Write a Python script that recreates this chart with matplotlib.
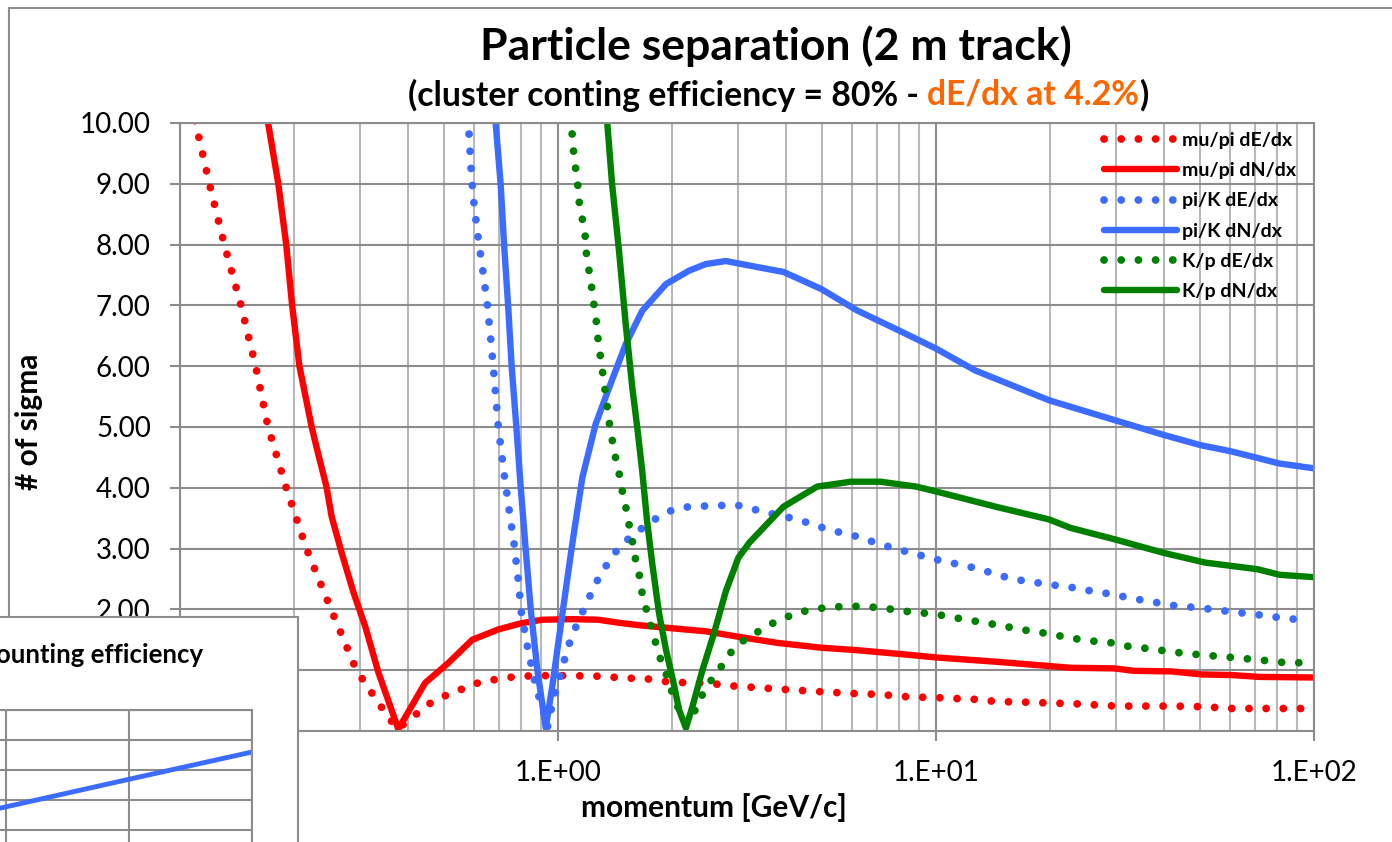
import math
import matplotlib
matplotlib.use("Agg")
import matplotlib.pyplot as plt
from matplotlib.patches import Rectangle
from matplotlib.ticker import FixedLocator, NullFormatter, FuncFormatter

plt.rcParams['font.family'] = ['Lato', 'DejaVu Sans']

# ---- data (momentum in GeV/c, separation in # of sigma) ----
mupi_de_p = [0.105, 0.110, 0.1196, 0.131, 0.145, 0.1585, 0.171, 0.191, 0.216, 0.251, 0.293,
             0.349, 0.376, 0.405, 0.454, 0.503, 0.553, 0.593, 0.664, 0.695, 0.788, 0.891,
             1.09, 1.30, 1.51, 1.71, 2.0, 2.46, 2.92, 3.63, 4.30, 4.85, 5.88, 7.13, 8.5,
             10.0, 12.7, 14.7, 16.2, 20.0, 23.0, 30.0, 33.0, 42.0, 50.6, 60.7, 71.5, 100.0]
mupi_de_s = [10.3, 10.0, 9.0, 8.0, 7.0, 6.0, 5.0, 4.0, 3.0, 2.0, 1.0,
             0.30, 0.03, 0.19, 0.44, 0.58, 0.68, 0.77, 0.83, 0.86, 0.90, 0.91,
             0.91, 0.90, 0.87, 0.86, 0.80, 0.79, 0.74, 0.70, 0.67, 0.65, 0.62, 0.60, 0.56,
             0.55, 0.52, 0.48, 0.48, 0.46, 0.45, 0.41, 0.41, 0.41, 0.40, 0.37, 0.37, 0.37]

mupi_dn_p = [0.168, 0.171, 0.182, 0.191, 0.198, 0.207, 0.223, 0.232, 0.244, 0.252, 0.268,
             0.288, 0.309, 0.335, 0.378, 0.445, 0.513, 0.593, 0.695, 0.797, 0.909, 1.09,
             1.28, 1.45, 1.64, 2.0, 2.46, 3.0, 3.8, 4.97, 6.17, 8.24, 10.0, 14.36, 22.7,
             29.6, 33.4, 42.0, 50.6, 60.7, 71.5, 100.0]
mupi_dn_s = [10.3, 10.0, 9.0, 8.0, 7.0, 6.0, 5.0, 4.56, 4.02, 3.52, 2.92,
             2.27, 1.72, 0.96, 0.03, 0.79, 1.12, 1.50, 1.67, 1.77, 1.83, 1.84,
             1.83, 1.78, 1.74, 1.69, 1.64, 1.55, 1.45, 1.37, 1.33, 1.26, 1.21, 1.14, 1.04,
             1.03, 0.99, 0.98, 0.93, 0.92, 0.89, 0.88]

pik_de_p = [0.577, 0.581, 0.588, 0.597, 0.612, 0.631, 0.650, 0.664, 0.677, 0.695, 0.72,
            0.742, 0.765, 0.784, 0.80, 0.83, 0.873, 0.928, 0.937, 0.976, 0.996, 1.026,
            1.058, 1.091, 1.137, 1.196, 1.258, 1.378, 1.48, 1.64, 1.776, 2.0, 2.22, 2.72,
            3.0, 3.63, 4.3, 5.21, 6.17, 7.13, 8.24, 10.0, 12.7, 15.9, 19.9, 22.9, 25.9,
            29.2, 33.0, 37.0, 41.6, 50.6, 60.7, 71.5, 82.3, 95.0]
pik_de_s = [10.1, 9.87, 9.30, 8.77, 8.20, 7.62, 7.02, 6.44, 5.86, 5.01, 4.23,
            3.65, 3.08, 2.51, 1.94, 1.39, 0.74, 0.19, 0.05, 0.57, 0.74, 1.04,
            1.34, 1.58, 1.83, 2.13, 2.43, 2.84, 3.08, 3.30, 3.46, 3.63, 3.69, 3.71,
            3.71, 3.58, 3.48, 3.31, 3.20, 3.07, 2.96, 2.82, 2.68, 2.50, 2.41, 2.36, 2.30,
            2.25, 2.18, 2.13, 2.07, 2.02, 1.96, 1.91, 1.86, 1.82]

pik_dn_p = [0.682, 0.684, 0.705, 0.72, 0.738, 0.754, 0.776, 0.797, 0.821, 0.847, 0.882,
            0.928, 0.966, 1.016, 1.091, 1.16, 1.258, 1.364, 1.51, 1.67, 1.93, 2.22, 2.46,
            2.78, 3.0, 3.37, 3.95, 4.97, 6.17, 8.15, 10.0, 12.7, 19.9, 29.8, 40.0, 50.2,
            60.3, 71.0, 80.9, 100.0]
pik_dn_s = [10.2, 10.0, 9.0, 8.0, 7.0, 6.0, 5.0, 4.0, 3.0, 2.0, 1.0,
            0.05, 0.74, 1.72, 3.08, 4.17, 5.05, 5.64, 6.36, 6.91, 7.35, 7.57, 7.68,
            7.73, 7.69, 7.63, 7.55, 7.27, 6.92, 6.56, 6.29, 5.93, 5.44, 5.11, 4.87, 4.70,
            4.60, 4.49, 4.40, 4.32]

kp_de_p = [1.075, 1.08, 1.09, 1.10, 1.114, 1.13, 1.14, 1.165, 1.184, 1.19, 1.213, 1.233,
           1.25, 1.27, 1.28, 1.297, 1.316, 1.337, 1.356, 1.373, 1.416, 1.45, 1.479, 1.504,
           1.53, 1.563, 1.595, 1.64, 1.67, 1.733, 1.795, 1.85, 1.93, 2.005, 2.07, 2.13,
           2.18, 2.31, 2.41, 2.51, 2.64, 2.83, 2.99, 3.63, 4.3, 5.21, 6.17, 7.13, 8.24,
           10.0, 11.3, 14.36, 17.9, 19.9, 22.6, 25.9, 29.2, 33.0, 37.4, 42.0, 50.6, 60.7,
           71.5, 82.0, 95.0]
kp_de_s = [10.1, 10.0, 9.82, 9.52, 9.24, 8.94, 8.65, 8.36, 8.08, 7.80, 7.51, 7.21,
           6.92, 6.63, 6.33, 6.14, 5.84, 5.53, 5.24, 4.98, 4.53, 4.25, 3.95, 3.76,
           3.49, 3.22, 2.89, 2.57, 2.26, 1.88, 1.55, 1.25, 0.95, 0.63, 0.41, 0.25,
           0.12, 0.35, 0.60, 0.79, 0.96, 1.25, 1.43, 1.75, 1.95, 2.04, 2.05, 2.03, 1.97,
           1.92, 1.86, 1.75, 1.64, 1.60, 1.53, 1.48, 1.45, 1.38, 1.35, 1.30, 1.25, 1.21,
           1.17, 1.13, 1.12]

kp_dn_p = [1.34, 1.35, 1.39, 1.45, 1.51, 1.573, 1.62, 1.67, 1.72, 1.776, 1.85, 1.93,
           2.03, 2.09, 2.18, 2.27, 2.41, 2.59, 2.78, 3.0, 3.21, 3.95, 4.85, 5.95, 7.13,
           8.86, 10.0, 14.36, 19.9, 22.7, 29.8, 40.0, 51.5, 71.0, 80.9, 100.0]
kp_dn_s = [10.1, 10.0, 9.0, 7.9, 6.7, 5.64, 5.0, 4.28, 3.46, 2.75, 1.94, 1.34,
           0.74, 0.35, 0.05, 0.41, 1.0, 1.62, 2.3, 2.85, 3.1, 3.69, 4.02, 4.10, 4.10,
           4.02, 3.94, 3.69, 3.48, 3.34, 3.15, 2.93, 2.77, 2.66, 2.57, 2.53]

# small inset (cluster counting efficiency), only a corner of it is in view
inset_x = [0, 1, 2, 3]
inset_y = [0.85, 1.77, 2.69, 3.6]

labels = ['mu/pi dE/dx', 'mu/pi dN/dx', 'pi/K dE/dx', 'pi/K dN/dx', 'K/p dE/dx', 'K/p dN/dx']
RED, BLUE, GREEN = '#ff0000', '#3b6cff', '#008000'

W, H = 1392, 842
fig = plt.figure(figsize=(W / 100, H / 100), dpi=100)


def fx(px):
    return px / W


def fy(py):
    return 1 - py / H


# outer chart frame
fig.add_artist(Rectangle((fx(9), fy(900)), fx(1600), fy(8) - fy(900), transform=fig.transFigure,
                         fill=False, edgecolor='#8c8c8c', lw=1.5, zorder=1))

ax = fig.add_axes([fx(180), fy(731), fx(1314) - fx(180), fy(123) - fy(731)])
ax.set_xscale('log')
ax.set_xlim(0.1, 100)
ax.set_ylim(0, 10)

dot = dict(ls=(0, (0.01, 2.2)), lw=5.6, dash_capstyle='round')
solid = dict(ls='-', lw=4.6, solid_joinstyle='round', solid_capstyle='round')
series = [(mupi_de_p, mupi_de_s, RED, dot), (mupi_dn_p, mupi_dn_s, RED, solid),
          (pik_de_p, pik_de_s, BLUE, dot), (pik_dn_p, pik_dn_s, BLUE, solid),
          (kp_de_p, kp_de_s, GREEN, dot), (kp_dn_p, kp_dn_s, GREEN, solid)]
for (p, s, c, st), lab in zip(series, labels):
    ax.plot(p, s, color=c, label=lab, **st)


def xfmt(v, _):
    # the 1.E-01 label sits under the inset box in the picture
    return '' if v < 0.5 else '1.E%+03d' % round(math.log10(v))


def yfmt(v, _):
    # 0.00 and 1.00 are hidden behind the inset box
    return '' if v < 1.5 else '%.2f' % v


ax.xaxis.set_major_locator(FixedLocator([0.1, 1, 10, 100]))
ax.xaxis.set_minor_locator(FixedLocator([m * 10.0 ** e for e in (-1, 0, 1) for m in range(2, 10)]))
ax.xaxis.set_minor_formatter(NullFormatter())
ax.xaxis.set_major_formatter(FuncFormatter(xfmt))
ax.yaxis.set_major_locator(FixedLocator(range(0, 11)))
ax.yaxis.set_major_formatter(FuncFormatter(yfmt))
ax.grid(True, which='major', color='#8c8c8c', lw=1.5)
ax.grid(True, which='minor', axis='x', color='#b8b8b8', lw=1.5)
ax.set_axisbelow(True)
for sp in ax.spines.values():
    sp.set_color('#8c8c8c')
    sp.set_linewidth(1.5)
ax.tick_params(which='major', direction='out', length=7, width=1.5, color='#8c8c8c',
               labelsize=20, pad=14)
ax.tick_params(which='minor', length=0)

ax.set_xlabel('momentum [GeV/c]', fontsize=21.5, fontweight='bold')
ax.xaxis.set_label_coords((714 - 180) / 1134, (731 - 793) / 608)
ax.set_ylabel('# of sigma', fontsize=21.5, fontweight='bold')
ax.yaxis.set_label_coords((43 - 180) / 1134, (731 - 422) / 608)

leg = ax.legend(loc='upper left', bbox_to_anchor=((1104 - 180) / 1134, (731 - 132) / 608),
                frameon=False, prop={'weight': 'bold', 'size': 14}, handlelength=3.75,
                handletextpad=0.25, labelspacing=0.68, borderpad=0, borderaxespad=0)

# titles
fig.text(fx(776), fy(46), 'Particle separation (2 m track)', ha='center', va='center',
         fontsize=32, fontweight='bold')
sub = [('(cluster conting efficiency = 80% -', 'black'), ('dE/dx at 4.2%', '#ff6600'), (')', 'black')]
parts = [fig.text(0, fy(95), t, color=c, ha='left', va='center', fontsize=24.3, fontweight='bold')
         for t, c in sub]
r = fig.canvas.get_renderer()
widths = [t.get_window_extent(r).width for t in parts]
gap = 9
total = sum(widths) + gap
x0 = 778 - total / 2
for i, t in enumerate(parts):
    t.set_x(fx(x0))
    x0 += widths[i] + (gap if i == 0 else 0)

# inset chart box
box = fig.add_axes([fx(-20), fy(870), fx(298) - fx(-20), fy(617) - fy(870)], zorder=5)
box.set_xticks([])
box.set_yticks([])
for sp in box.spines.values():
    sp.set_color('#8c8c8c')
    sp.set_linewidth(1.5)
box.text((203 + 20) / 318, (870 - 655) / 253, 'Cluster counting efficiency', transform=box.transAxes,
         ha='right', va='center', fontsize=18.5, fontweight='bold')

ins = fig.add_axes([fx(-117.5), fy(860), fx(252) - fx(-117.5), fy(710) - fy(860)], zorder=6)
ins.plot(inset_x, inset_y, color=BLUE, lw=3.5)
ins.set_xlim(0, 3)
ins.set_ylim(0, 5)
ins.xaxis.set_major_locator(FixedLocator([0, 1, 2, 3]))
ins.yaxis.set_major_locator(FixedLocator([0, 1, 2, 3, 4, 5]))
ins.tick_params(length=0, labelbottom=False, labelleft=False)
ins.grid(True, color='#8c8c8c', lw=1.5)
ins.set_axisbelow(True)
for sp in ins.spines.values():
    sp.set_color('#8c8c8c')
    sp.set_linewidth(1.5)

fig.savefig('out.png', dpi=100)
